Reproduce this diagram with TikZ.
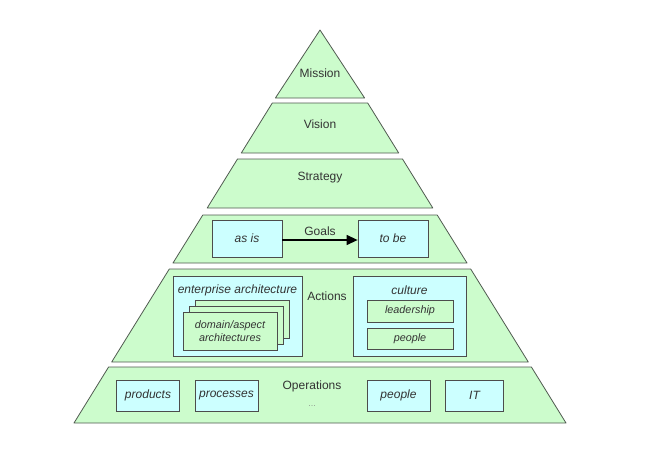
\documentclass[tikz,border=0pt]{standalone}
\usepackage{fontspec}
\setmainfont{Liberation Sans}
\usetikzlibrary{arrows.meta}

\definecolor{layergreen}{HTML}{CCFCCC}
\definecolor{boxcyan}{HTML}{CCFFFF}
\definecolor{edgegray}{HTML}{505A50}

\tikzset{
  layer/.style={draw=edgegray, fill=layergreen, line width=0.8pt, line join=round},
  label/.style={text=black!80, font=\fontsize{12}{14}\selectfont, inner sep=0pt},
  box/.style={draw=black!70, fill=boxcyan, line width=0.8pt, inner sep=0pt, text=black!80, font=\fontsize{12}{14}\selectfont\itshape},
  smallbox/.style={box, font=\fontsize{10.8}{13}\selectfont\itshape},
}

\begin{document}
\begin{tikzpicture}[x=1pt, y=-1pt]
\useasboundingbox (0,0) rectangle (648,455);

% pyramid layers
\draw[layer] (320,30) -- (364.6,98) -- (275.4,98) -- cycle;
\draw[layer] (272.3,103) -- (367.7,103) -- (398.7,153) -- (241.3,153) -- cycle;
\draw[layer] (237.5,159) -- (402.5,159) -- (432.8,208) -- (207.2,208) -- cycle;
\draw[layer] (202.8,215) -- (437.2,215) -- (467,263) -- (173,263) -- cycle;
\draw[layer] (169.3,269) -- (470.7,269) -- (528.3,362) -- (111.7,362) -- cycle;
\draw[layer] (108.6,367) -- (531.4,367) -- (566,423) -- (74,423) -- cycle;

\node[label] (mission) at (320,73) {Mission};
\node[label] (vision) at (320,124) {Vision};
\node[label] (strategy) at (320,178) {Strategy};

% goals
\node[label] (goals) at (320,231) {Goals};
\node[box, minimum width=70pt, minimum height=37pt] (asis) at (247,238.5) {as is};
\node[box, minimum width=70pt, minimum height=37pt] (tobe) at (393,238.5) {to be};
\draw[-{Triangle[length=11pt,width=10pt]}, line width=1.3pt] ([yshift=-1.5pt]asis.east) -- ([yshift=-1.5pt]tobe.west);

% actions
\node[label] (actions) at (327,296) {Actions};
\node[box, minimum width=129pt, minimum height=80pt] (ea) at (237.5,316) {};
\node[label, font=\fontsize{12}{14}\selectfont\itshape] (ealabel) at (237.5,290) {enterprise architecture};
\node[smallbox, minimum width=94pt, minimum height=38pt, fill=layergreen] (dom3) at (242,319) {};
\node[smallbox, minimum width=94pt, minimum height=38pt, fill=layergreen] (dom2) at (236,325) {};
\node[smallbox, minimum width=94pt, minimum height=38pt, fill=layergreen, align=center] (dom1) at (230,331) {domain/aspect\\architectures};

\node[box, minimum width=113pt, minimum height=80pt] (culture) at (409.5,316) {};
\node[label, font=\fontsize{12}{14}\selectfont\itshape] (culturelabel) at (409.5,290) {culture};
\node[smallbox, minimum width=86pt, minimum height=22pt, fill=layergreen] (leadership) at (410,311) {leadership};
\node[smallbox, minimum width=86pt, minimum height=21pt, fill=layergreen] (cpeople) at (410,338.5) {people};

% operations
\node[label] (operations) at (312,386) {Operations};
\node[label, font=\fontsize{8}{10}\selectfont, text=black!50] (dots) at (312,406) {\ldots};
\node[box, minimum width=63pt, minimum height=31pt] (products) at (148,395.5) {products};
\node[box, minimum width=63pt, minimum height=31pt] (processes) at (226.5,395.5) {processes};
\node[box, minimum width=63pt, minimum height=31pt] (opeople) at (398.5,395.5) {people};
\node[box, minimum width=58pt, minimum height=31pt] (it) at (474.5,395.5) {IT};
\end{tikzpicture}
\end{document}
